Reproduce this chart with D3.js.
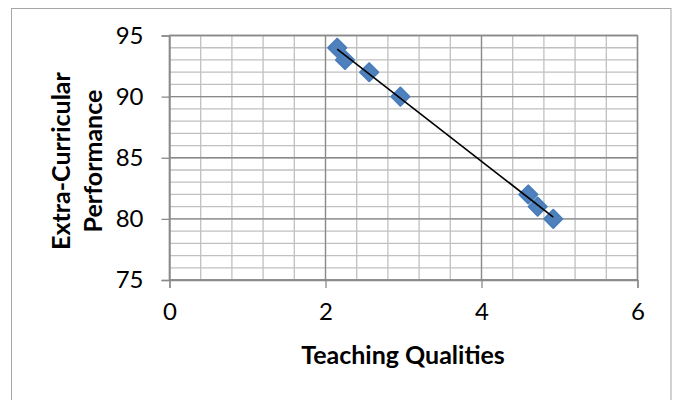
<!DOCTYPE html>
<html><head><meta charset="utf-8">
<script src="https://cdn.jsdelivr.net/npm/d3@7"></script>
<style>
html,body{margin:0;padding:0;background:#fff;}
svg{display:block;}
</style></head>
<body>
<svg id="chart" width="673" height="400"></svg>
<script>
const teaching = [2.15, 2.25, 2.56, 2.96, 4.6, 4.72, 4.92];
const extra = [94, 93, 92, 90, 82, 81, 80];
const xTicks = [0, 2, 4, 6];
const yTicks = [75, 80, 85, 90, 95];
const xTitle = "Teaching Qualities";
const yTitle = ["Extra-Curricular", "Performance"];

const svg = d3.select("#chart");
const W = 673, H = 400;
const m = {left: 169.5, right: 673 - 637.5, top: 35.5, bottom: 400 - 280};
const font = "Lato, 'Open Sans', sans-serif";

// outer chart border
svg.append("rect").attr("x", 11.5).attr("y", 8.5).attr("width", 659.5).attr("height", 400)
  .attr("fill", "#fff").attr("stroke", "#a6a6a6").attr("stroke-width", 1);

const x = d3.scaleLinear().domain([0, 6]).range([m.left, W - m.right]);
const y = d3.scaleLinear().domain([75, 95]).range([H - m.bottom, m.top]);

const g = svg.append("g");

// minor gridlines
g.selectAll(".vminor").data(d3.range(0, 6.001, 0.4)).join("line")
  .attr("x1", d => x(d)).attr("x2", d => x(d)).attr("y1", y(75)).attr("y2", y(95))
  .attr("stroke", "#c0c0c0").attr("stroke-width", 1.3);
g.selectAll(".hminor").data(d3.range(75, 95.001, 1)).join("line")
  .attr("x1", x(0)).attr("x2", x(6)).attr("y1", d => y(d)).attr("y2", d => y(d))
  .attr("stroke", "#c0c0c0").attr("stroke-width", 1.3);
// major gridlines
g.selectAll(".vmajor").data(xTicks).join("line")
  .attr("x1", d => x(d)).attr("x2", d => x(d)).attr("y1", y(75)).attr("y2", y(95))
  .attr("stroke", "#8a8a8a").attr("stroke-width", 1.3);
g.selectAll(".hmajor").data(yTicks).join("line")
  .attr("x1", x(0)).attr("x2", x(6)).attr("y1", d => y(d)).attr("y2", d => y(d))
  .attr("stroke", "#8a8a8a").attr("stroke-width", 1.3);

// axes
const xAxis = g.append("g").attr("transform", `translate(0,${y(75)})`)
  .call(d3.axisBottom(x).tickValues(xTicks).tickSize(8).tickPadding(15).tickFormat(d3.format("d")));
const yAxis = g.append("g").attr("transform", `translate(${x(0)},0)`)
  .call(d3.axisLeft(y).tickValues(yTicks).tickSize(8).tickPadding(18).tickFormat(d3.format("d")));
[xAxis, yAxis].forEach(a => {
  a.select(".domain").attr("stroke", "#8a8a8a").attr("stroke-width", 1.3);
  a.selectAll(".tick line").attr("stroke", "#8a8a8a").attr("stroke-width", 1.3);
  a.selectAll("text").attr("font-family", font).attr("font-size", 24).attr("fill", "#000");
});
// plot right/top border
g.append("rect").attr("x", x(0)).attr("y", y(95)).attr("width", x(6) - x(0)).attr("height", y(75) - y(95))
  .attr("fill", "none").attr("stroke", "#8a8a8a").attr("stroke-width", 1.3);

// trendline (least squares)
const n = teaching.length;
const mx = d3.mean(teaching), my = d3.mean(extra);
let sxy = 0, sxx = 0;
for (let i = 0; i < n; i++) { sxy += (teaching[i]-mx)*(extra[i]-my); sxx += (teaching[i]-mx)**2; }
const slope = sxy / sxx, icpt = my - slope * mx;
const [x0, x1] = d3.extent(teaching);

// markers
const pts = teaching.map((t, i) => ({t, e: extra[i]}));
g.selectAll(".pt").data(pts).join("path")
  .attr("d", d3.symbol().type(d3.symbolDiamond2).size(210))
  .attr("transform", d => `translate(${x(d.t)},${y(d.e)})`)
  .attr("fill", "#4f81bd").attr("stroke", "#4a7ebb").attr("stroke-width", 2).attr("stroke-linejoin", "round");

g.append("line").attr("x1", x(x0)).attr("y1", y(icpt + slope * x0))
  .attr("x2", x(x1)).attr("y2", y(icpt + slope * x1))
  .attr("stroke", "#000").attr("stroke-width", 1.6);

// titles
svg.append("text").attr("x", 403).attr("y", 364).attr("text-anchor", "middle")
  .attr("font-family", font).attr("font-weight", "bold").attr("font-size", 25).text(xTitle);
const yt = svg.append("text").attr("transform", "translate(0,161) rotate(-90)")
  .attr("text-anchor", "middle").attr("font-family", font).attr("font-weight", "bold").attr("font-size", 25);
yTitle.forEach((s, i) => yt.append("tspan").attr("x", 0).attr("y", 70 + i * 32).text(s));
</script>
</body></html>
